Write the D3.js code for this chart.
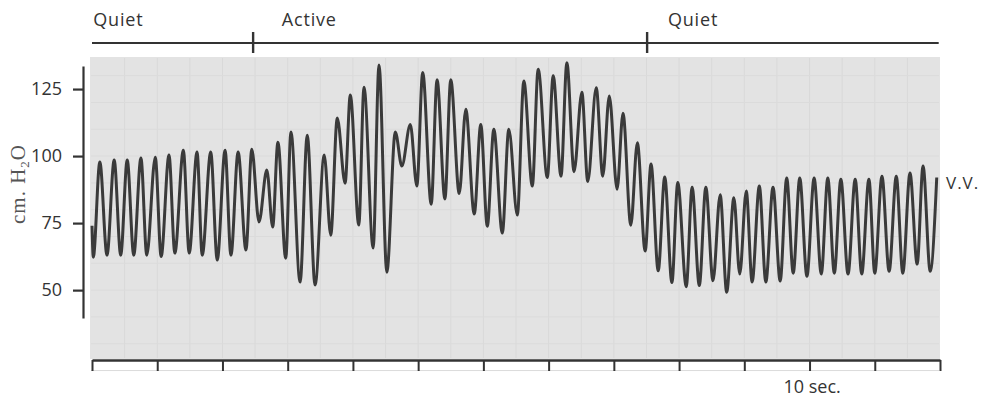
<!DOCTYPE html>
<html>
<head>
<meta charset="utf-8">
<script src="https://cdn.jsdelivr.net/npm/d3@7"></script>
<style>
  body { margin: 0; background: #fff; }
  svg { display: block; }
  text { font-family: "Open Sans", sans-serif; fill: #333; }
</style>
</head>
<body>
<div id="chart"></div>
<script>
// time (sec) of each peak / trough of the pressure record
const traceTime = [
  0, 0.02, 0.12, 0.23, 0.34, 0.44, 0.54, 0.64, 0.75, 0.84, 0.97, 1.06, 1.18, 1.27, 1.40, 1.49,
  1.61, 1.69, 1.82, 1.92, 2.04, 2.13, 2.24, 2.36, 2.45,
  2.56, 2.68, 2.77, 2.85, 2.97, 3.05, 3.19, 3.30, 3.42, 3.56, 3.66, 3.76, 3.88, 3.96, 4.09,
  4.17, 4.31, 4.40, 4.52, 4.65, 4.75, 4.88, 4.98, 5.07, 5.20, 5.29, 5.41, 5.50, 5.63, 5.73,
  5.86, 5.96, 6.06, 6.16, 6.29, 6.39, 6.52, 6.62, 6.75, 6.84, 6.98, 7.07, 7.19, 7.28, 7.39,
  7.51, 7.60, 7.73, 7.83, 7.93, 8.05, 8.14, 8.26, 8.36, 8.48,
  8.57, 8.68, 8.78, 8.89, 8.98, 9.11, 9.20, 9.31, 9.41, 9.52, 9.63, 9.73, 9.84, 9.93, 10.03,
  10.12, 10.23, 10.33, 10.44, 10.55, 10.65, 10.75, 10.85, 10.96, 11.07, 11.18, 11.28, 11.38,
  11.48, 11.59, 11.70, 11.80, 11.91, 12.00, 12.11, 12.22, 12.33, 12.43, 12.54, 12.65, 12.74,
  12.85, 12.95
];

// pressure (cm. H2O) at those times
const tracePressure = [
  74, 62.3, 97.8, 63, 98.5, 63, 98.5, 63, 99.3, 63, 99.6, 62.5, 100.4, 63.8, 102.2, 63.8,
  101.5, 63, 101.5, 61.2, 102.2, 63, 101.5, 65, 102.5,
  75.4, 94.8, 73.5, 105.2, 61.9, 109, 53, 107.8, 51.9, 100.4, 70.5, 114.2, 89.9, 122.8, 74.3,
  125.7, 65.7, 134, 56.7, 109, 96.3, 111.8, 88.8, 131.2, 82, 128.5, 84, 128.5, 86, 117.5,
  78.4, 111.8, 73.8, 110, 71.3, 110, 78, 128, 88.8, 132.4, 92, 130, 92.5, 134.8, 94.2,
  123.8, 90.5, 125.5, 92.5, 122.4, 87.6, 116, 74.2, 105, 64.6,
  97, 57.2, 92.2, 52.8, 90.1, 51.3, 88.4, 51.7, 88.4, 53.5, 85.6, 49.2, 84.5, 56, 87,
  53, 88.8, 53, 88.4, 53.4, 91.8, 56.3, 91.8, 55.2, 91.8, 56, 91.8, 56.3,
  91.4, 56, 91.4, 56, 91.4, 56.3, 92.5, 57, 92.5, 56.3, 93.7, 59.7, 96.3,
  57, 92
];

const yTicks = [50, 75, 100, 125];
const secTicks = d3.range(0, 14);          // one tick per second, 0..13
const phaseNames = ["Quiet", "Active", "Quiet"];
const phaseStart = [0.02, 2.91, 8.83];     // where each label starts (sec)
const phaseMarks = [2.47, 8.51];           // change-over marks on the top bar
const phaseEnd = 12.98;

const width = 994,
      height = 403;

let x = d3.scaleLinear().domain([0, 13]).range([92, 940]),
    y = d3.scaleLinear().domain([39.6, 133.6]).range([318, 66]);

const svg = d3.select("#chart")
  .append("svg")
  .attr("width", width)
  .attr("height", height);

// recording paper
svg.append("rect")
  .attr("x", 90)
  .attr("y", 57)
  .attr("width", 850)
  .attr("height", 302)
  .attr("fill", "#e3e3e3");

// faint ruling of the paper
const grid = svg.append("g").attr("class", "grid");
grid.selectAll(".vg")
  .data(d3.range(0.5, 13, 0.5))
  .enter().append("line")
  .attr("x1", d => x(d)).attr("x2", d => x(d))
  .attr("y1", 58).attr("y2", 358)
  .attr("stroke", "#d9d9d9")
  .attr("stroke-width", 1);
grid.selectAll(".hg")
  .data(d3.range(20, 135, 10))
  .enter().append("line")
  .attr("x1", 91).attr("x2", 939)
  .attr("y1", d => y(d)).attr("y2", d => y(d))
  .attr("stroke", "#dbdbdb")
  .attr("stroke-width", 1);

// pressure trace
const trace = traceTime.map((t, i) => ({t: t, p: tracePressure[i]}));

const line = d3.line()
  .x(d => x(d.t))
  .y(d => y(d.p))
  .curve(d3.curveMonotoneX);

svg.append("path")
  .datum(trace)
  .attr("fill", "none")
  .attr("stroke", "#3a3a3a")
  .attr("stroke-width", 3)
  .attr("stroke-linejoin", "round")
  .attr("d", line);

// y axis
const yAxis = svg.append("g")
  .attr("class", "y axis")
  .attr("transform", "translate(83,0)")
  .call(d3.axisLeft(y).tickValues(yTicks).tickSize(10).tickSizeOuter(0).tickPadding(11));
yAxis.select(".domain").attr("stroke", "#333").attr("stroke-width", 2.2);
yAxis.selectAll(".tick line").attr("stroke", "#333").attr("stroke-width", 2.2);
yAxis.selectAll(".tick text")
  .attr("font-size", 18)
  .attr("font-family", "Open Sans, sans-serif")
  .attr("fill", "#333");

// y label (serif, rotated)
const ylab = svg.append("text")
  .attr("transform", "translate(25,184) rotate(-90)")
  .attr("text-anchor", "middle")
  .style("font-family", "'Liberation Serif', 'DejaVu Serif', serif")
  .style("fill", "#555")
  .attr("font-size", 21)
  .attr("letter-spacing", 1)
  .text("cm. H");
ylab.append("tspan").attr("font-size", 13).attr("dy", 4).text("2");
ylab.append("tspan").attr("dy", -4).text("O");

// time axis
const xAxis = svg.append("g")
  .attr("class", "x axis")
  .attr("transform", "translate(0,360)")
  .call(d3.axisBottom(x).tickValues(secTicks).tickSize(11).tickSizeOuter(0).tickFormat(""));
xAxis.select(".domain").attr("stroke", "#333").attr("stroke-width", 2.4);
xAxis.selectAll(".tick line").attr("stroke", "#333").attr("stroke-width", 2);

svg.append("text")
  .attr("x", x(10.6))
  .attr("y", 393)
  .attr("font-size", 18)
  .text("10 sec.");

// phase bar along the top
svg.append("line")
  .attr("x1", x(0)).attr("x2", x(phaseEnd))
  .attr("y1", 43).attr("y2", 43)
  .attr("stroke", "#333")
  .attr("stroke-width", 2.2);

svg.selectAll(".mark")
  .data(phaseMarks)
  .enter().append("line")
  .attr("class", "mark")
  .attr("x1", d => x(d)).attr("x2", d => x(d))
  .attr("y1", 32).attr("y2", 53)
  .attr("stroke", "#333")
  .attr("stroke-width", 2.4);

svg.selectAll(".phase")
  .data(phaseNames)
  .enter().append("text")
  .attr("class", "phase")
  .attr("x", (d, i) => x(phaseStart[i]))
  .attr("y", 26)
  .attr("font-size", 18)
  .attr("letter-spacing", 0.8)
  .text(d => d);

// trace name on the right
svg.append("text")
  .attr("x", 946)
  .attr("y", 189)
  .attr("font-size", 17)
  .attr("letter-spacing", 1)
  .text("V.V.");
</script>
</body>
</html>
